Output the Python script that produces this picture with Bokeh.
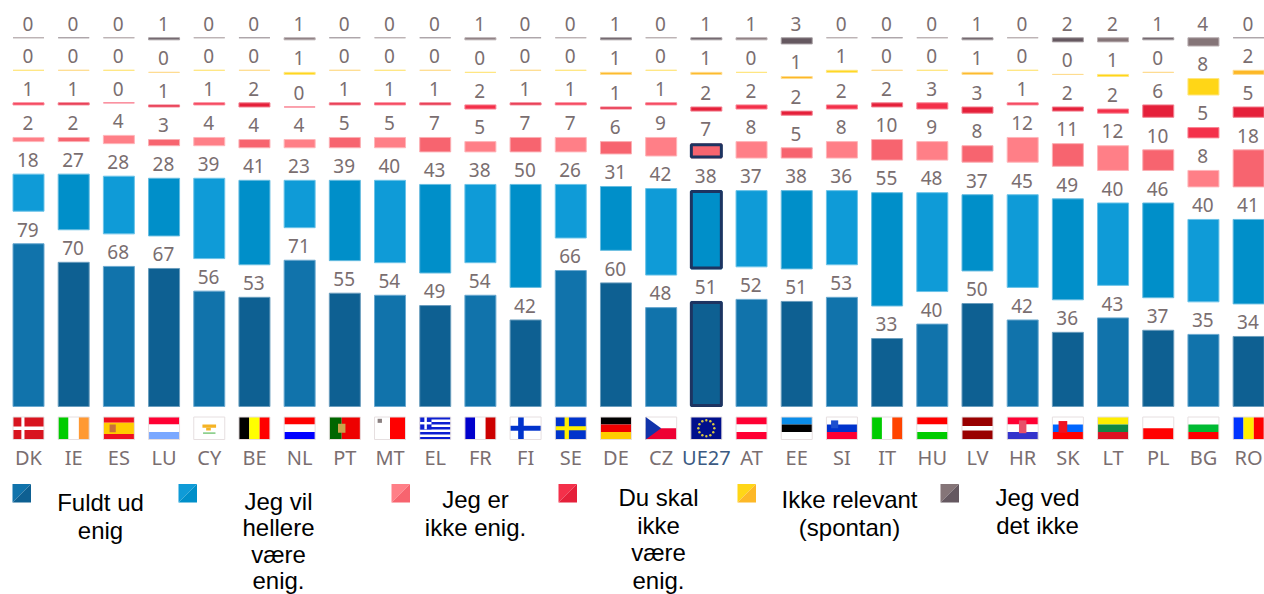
from bokeh.plotting import figure
from bokeh.models import Range1d
from bokeh.core.properties import value
from bokeh.embed import file_html
from bokeh.resources import INLINE
import math

countries = ["DK","IE","ES","LU","CY","BE","NL","PT","MT","EL","FR","FI","SE","DE","CZ","UE27","AT","EE","SI","IT","HU","LV","HR","SK","LT","PL","BG","RO"]
fuldt =   [79,70,68,67,56,53,71,55,54,49,54,42,66,60,48,51,52,51,53,33,40,50,42,36,43,37,35,34]
hellere = [18,27,28,28,39,41,23,39,40,43,38,50,26,31,42,38,37,38,36,55,48,37,45,49,40,46,40,41]
ikke =    [2,2,4,3,4,4,4,5,5,7,5,7,7,6,9,7,8,5,8,10,9,8,12,11,12,10,8,18]
skal =    [1,1,0,1,1,2,0,1,1,1,2,1,1,1,1,2,2,2,2,2,3,3,1,2,2,6,5,5]
relevant =[0,0,0,0,0,0,1,0,0,0,0,0,0,1,0,1,0,1,1,0,0,1,0,0,1,0,8,2]
ved =     [0,0,0,1,0,0,1,0,0,0,1,0,0,1,0,1,1,3,0,0,0,1,0,2,2,1,4,0]
series = [fuldt, hellere, ikke, skal, relevant, ved]

light = ["#1173ab","#0f9bd7","#ff7f87","#f4304a","#ffd617","#857578"]
dark  = ["#0e6092","#008fc9","#f7646f","#e5203a","#fdb827","#655860"]
edge_l = ["#6aa8cf","#6cc3e8","#ffb6ba","#f98494","#ffe680","#b8aeb0"]
edge_d = ["#6a9dbd","#66bce0","#fbaeb3","#f28090","#fedc90","#a8a0a4"]
legend_lines = [["Fuldt ud","enig"],["Jeg vil","hellere","være","enig."],["Jeg er","ikke enig."],
                ["Du skal","ikke","være","enig."],["Ikke relevant","(spontan)"],["Jeg ved","det ikke"]]
legend_cx = [100,278,475,658,849,1037]
legend_first = [510,509,507,505,507,505]
legend_lead = [27.6,26.4,27.6,27.6,27.6,27.6]
swatch_x = [12,178,391,558,737,940]

W, H = 1264, 594
STEP, PXU, X0, Y0 = 45.19, 2.06, 28.0, 406.0
GAP = 15.8
BAR = 31.0 / STEP

def dx(px): return (px - X0) / STEP
def dy(py): return (Y0 - py) / PXU

p = figure(width=W, height=H, output_backend="svg", toolbar_location=None,
           x_range=Range1d(dx(0), dx(W)), y_range=Range1d(dy(H), dy(0)),
           min_border=0)
p.axis.visible = False
p.grid.visible = False
p.outline_line_color = None
p.background_fill_color = None
p.border_fill_color = "white"

# Bars
xs, bot, top, fc, lc, labels, lab_y = [], [], [], [], [], [], []
hx, hb, ht = [], [], []
for s_i, s in enumerate(series):
    for i, v in enumerate(s):
        b = sum(series[k][i] for k in range(s_i)) + s_i * GAP
        xs.append(i); bot.append(b); top.append(b + v)
        alt = i % 2 == 0
        fc.append(light[s_i] if alt else dark[s_i])
        lc.append(edge_l[s_i] if alt else edge_d[s_i])
        labels.append(str(v)); lab_y.append(b + v + 6.9)
        if countries[i] == "UE27" and s_i < 3:
            hx.append(i); hb.append(b); ht.append(b + v)

p.vbar(x=xs, bottom=bot, top=top, width=BAR, fill_color=fc, line_color=lc, line_width=1)
inset = 1.0 / PXU
p.vbar(x=hx, bottom=[b + inset for b in hb], top=[t - inset for t in ht],
       width=BAR - 1.0 / STEP, fill_alpha=0, line_color="#1d3461", line_width=3)

num_font = value("Noto Sans")
p.text(x=[x - 0.015 for x in xs], y=lab_y, text=labels, text_align="center", text_baseline="middle",
       text_font=num_font, text_font_size="19px", text_color="#7a6e70")

# Flags: stripes in fractions of the flag box
def H3(a, b, c, r=(1/3, 2/3)):
    return [(0,0,1,r[0],a),(0,r[0],1,r[1],b),(0,r[1],1,1,c)]
def V3(a, b, c):
    return [(0,0,1/3,1,a),(1/3,0,2/3,1,b),(2/3,0,1,1,c)]
W_ = "#ffffff"
flags = {
 "DK":[(0,0,1,1,"#d8141f"),(.27,0,.37,1,W_),(0,.42,1,.58,W_)],
 "IE":V3("#00cc00",W_,"#ff9933"),
 "ES":H3("#f01020","#ffcc00","#f01020",(.25,.75))+[(.2,.33,.4,.68,"#c8703a")],
 "LU":H3("#ff0033",W_,"#7aa8ff"),
 "CY":[(.28,.33,.72,.48,"#f5b324"),(.4,.48,.55,.6,"#f5b324"),(.3,.68,.7,.76,"#8fd08f")],
 "BE":V3("#000000","#ffff00","#ff0000"),
 "NL":H3("#ff0000",W_,"#0000ff"),
 "PT":[(0,0,.4,1,"#006600"),(.4,0,1,1,"#ee0000"),(.28,.3,.52,.7,"#c9a24a")],
 "MT":[(.5,0,1,1,"#ff0000"),(.1,.08,.24,.26,"#8a8080")],
 "EL":[(0,y/9,1,(y+1)/9,"#0d1fd1") for y in (0,2,4,6,8)]+[(0,0,.38,.55,"#0d1fd1"),(.15,0,.23,.55,W_),(0,.22,.38,.33,W_)],
 "FR":V3("#0000cc",W_,"#cc0000"),
 "FI":[(.26,0,.44,1,"#0033cc"),(0,.39,1,.61,"#0033cc")],
 "SE":[(0,0,1,1,"#0033cc"),(.3,0,.44,1,"#ffee00"),(0,.41,1,.59,"#ffee00")],
 "DE":H3("#000000","#ee0000","#ffcc00"),
 "CZ":[(0,.5,1,1,"#ee0033")],
 "UE27":[(0,0,1,1,"#000f8c")],
 "AT":H3("#ff0033",W_,"#ff0033"),
 "EE":H3("#0a8ce8","#000000",W_),
 "SI":H3(W_,"#0033cc","#ff0033")+[(.15,.15,.38,.5,"#1d4fcf")],
 "IT":V3("#00cc00",W_,"#ff4400"),
 "HU":H3("#ff0000",W_,"#00cc00"),
 "LV":H3("#990000",W_,"#990000",(.4,.6)),
 "HR":H3("#ff0033",W_,"#3333cc")+[(.38,.15,.62,.72,"#e8506a")],
 "SK":H3(W_,"#0066ff","#ff0000")+[(.2,.18,.48,.7,"#ee1122")],
 "LT":H3("#ffee00","#118844","#dd1122"),
 "PL":[(0,.5,1,1,"#ff0000")],
 "BG":H3(W_,"#00bb33","#ff0000"),
 "RO":V3("#0033ff","#ffee00","#ff0000"),
}
FW, FTOP, FH = 31.0, 416.5, 22.5
qx0, qx1, qt, qb, qc = [], [], [], [], []
for i, c in enumerate(countries):
    cx = X0 + STEP * i
    left = cx - FW / 2
    for (a, b, e, d, col) in [(0,0,1,1,"#ffffff")] + flags[c]:
        qx0.append(dx(left + a * FW)); qx1.append(dx(left + e * FW))
        qt.append(dy(FTOP + b * FH)); qb.append(dy(FTOP + d * FH)); qc.append(col)
p.quad(left=qx0, right=qx1, top=qt, bottom=qb, fill_color=qc, line_color=None)
fl = [dx(X0 + STEP * i - FW / 2) for i in range(len(countries))]
fr = [dx(X0 + STEP * i + FW / 2) for i in range(len(countries))]
p.quad(left=fl, right=fr, top=dy(FTOP), bottom=dy(FTOP + FH), fill_alpha=0, line_color="#e6dfe0", line_width=1)
cz = countries.index("CZ")
czl = X0 + STEP * cz - FW / 2
p.patch([dx(czl), dx(czl + FW * .5), dx(czl)], [dy(FTOP), dy(FTOP + FH / 2), dy(FTOP + FH)], fill_color="#1133aa", line_color=None)
eu = countries.index("UE27")
ex, ey = [], []
for k in range(12):
    ex.append(dx(X0 + STEP * eu + 8 * math.cos(k * math.pi / 6)))
    ey.append(dy(FTOP + FH / 2 + 8 * math.sin(k * math.pi / 6)))
p.scatter(ex, ey, size=2.4, marker="circle", fill_color="#d8c840", line_color=None)

# Country codes
tick_colors = ["#3c5a82" if c == "UE27" else "#7a6e70" for c in countries]
p.text(x=list(range(len(countries))), y=[dy(457)] * len(countries), text=countries,
       text_align="center", text_baseline="middle", text_font=num_font,
       text_font_size="20px", text_color=tick_colors)

# Legend
for k, sx in enumerate(swatch_x):
    x0, x1, y0, y1 = dx(sx), dx(sx + 18.5), dy(483.5), dy(502)
    p.patch([x0, x1, x0], [y0, y0, y1], fill_color=light[k], line_color=None)
    p.patch([x1, x1, x0], [y0, y1, y1], fill_color=dark[k], line_color=None)
    for j, t in enumerate(legend_lines[k]):
        p.text(x=[dx(legend_cx[k])], y=[dy(legend_first[k] - 8 + j * legend_lead[k])], text=[t],
               text_align="center", text_baseline="middle",
               text_font=value("Liberation Sans"), text_font_size="24px", text_color="#000000")

open("out.html", "w").write(file_html(p, INLINE))
